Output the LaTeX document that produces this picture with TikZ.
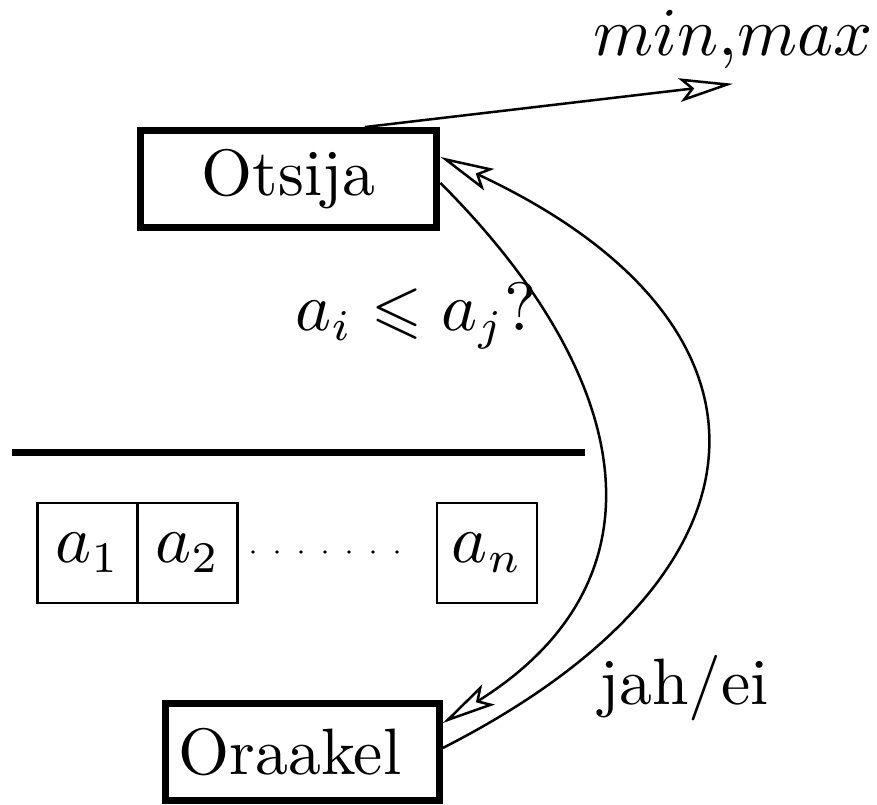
\documentclass[tikz,border=0pt]{standalone}
\usepackage{amssymb}
\usetikzlibrary{arrows.meta}
\tikzset{>={Stealth[open,length=8.6pt,width=3.8pt,inset=1.8pt]}}
\tikzset{agent/.style={draw,rectangle,line width=1.12pt,minimum height=15.5pt,inner sep=0pt},
  cell/.style={draw,rectangle,line width=0.4pt,minimum size=16pt,inner sep=0pt}}

\begin{document}
\begin{tikzpicture}[x=16pt,y=16pt,line width=0.4pt,font=\fontsize{10.5pt}{12.6pt}\selectfont]
        \useasboundingbox (0,0) rectangle (8.77,8.05);
        \node[agent,minimum width=47.5pt] (otsija) at (2.885,6.26) {Otsija};
        \node[agent,minimum width=43.8pt] (oraakel) at (3.025,0.53) {Oraakel\kern4pt};
        \node (mm) at (7.33,7.65) {$min{,}max$};
        \draw[->] ([xshift=12.2pt]otsija.north) -- ([yshift=1.2pt]mm.south);
        % the input array
        \draw[line width=1.12pt] (0.12,3.52) -- (5.85,3.52);
        \node[cell] (a1) at (0.875,2.52) {$a_1$};
        \node[cell] (a2) at (1.875,2.52) {$a_2$};
        \node[cell] (an) at (4.87,2.52) {$a_n$};
        \foreach \i in {0,...,6} \fill (2.53+0.24*\i,2.53) circle (0.3pt);
        % question and answer
        \draw[->] ([yshift=-0.64pt]otsija.east) .. controls +(-45:2.72) and +(32:2.72) .. ([yshift=4.64pt]oraakel.east);
        \draw[->] ([yshift=0.64pt]oraakel.east) .. controls +(27:3.9) and +(-25:3.9) .. ([yshift=3.52pt]otsija.east);
        \node (q) at (4.16,4.89) {$a_i\leqslant a_j?$};
        \node (ans) at (6.84,1.17) {jah/ei};
\end{tikzpicture}
\end{document}
